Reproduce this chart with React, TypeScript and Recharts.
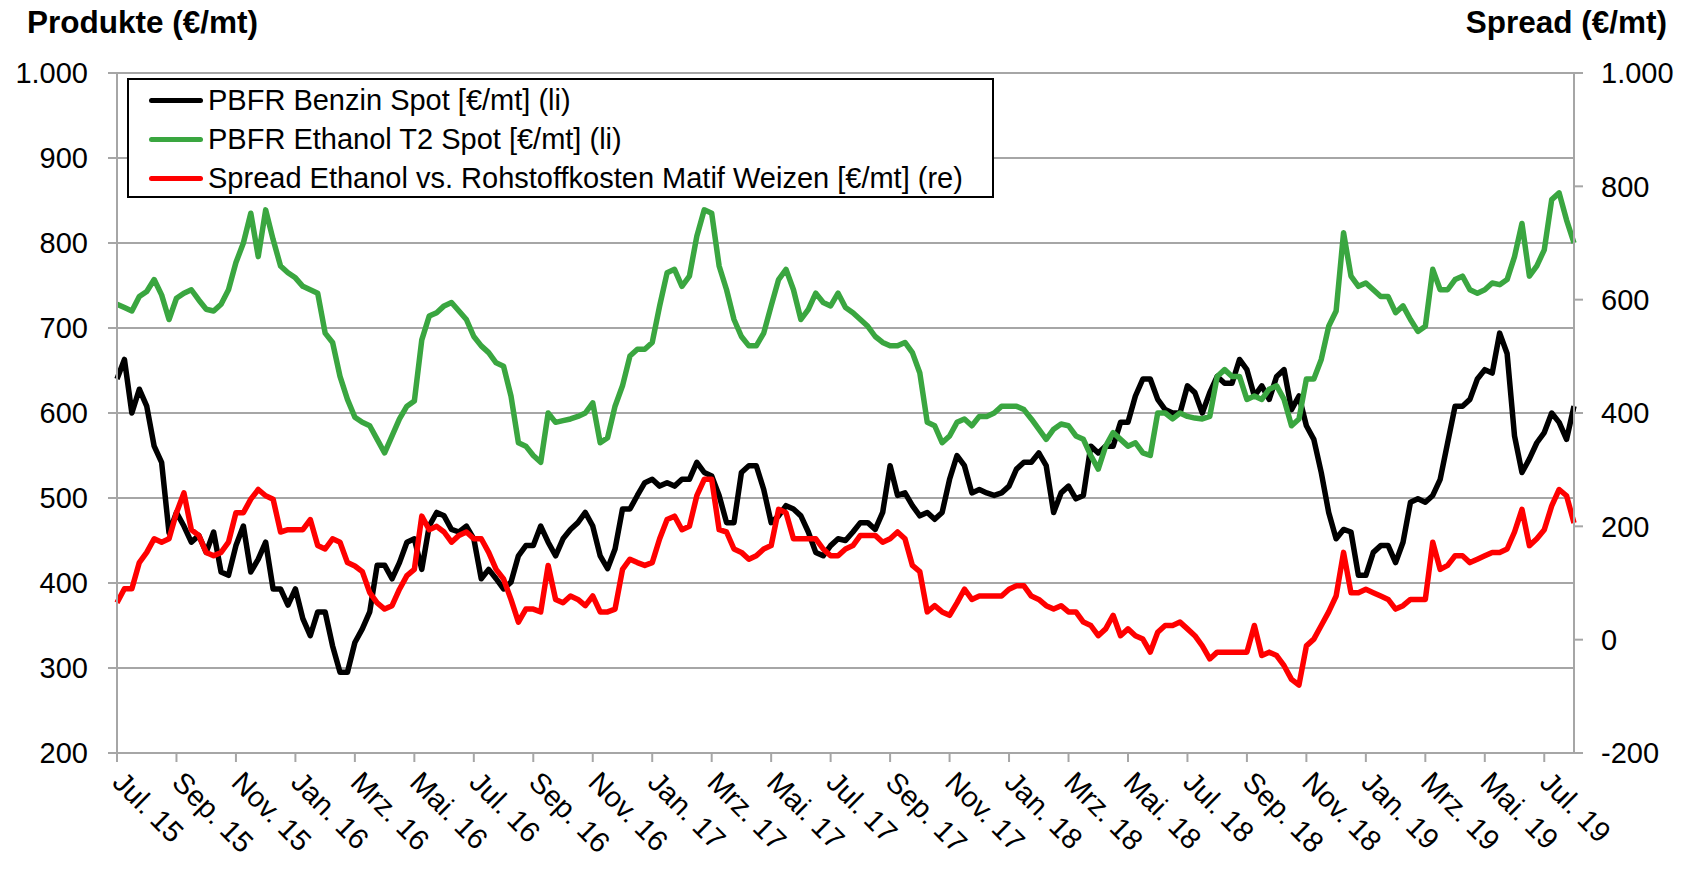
import React from "react";
import { LineChart, Line, XAxis, YAxis, CartesianGrid } from "recharts";

// quarter-month samples, Jul 2015 .. end Jul 2019
const benzin = [
  640, 663, 600, 628, 608, 561, 542, 459, 483, 467, 448, 456, 436, 460, 413, 409, 444, 467, 413, 428, 448, 393, 393, 374, 393, 358, 338, 366, 366, 326, 295, 295, 330,
  346, 366, 421, 421, 405, 424, 448, 452, 416, 467, 483, 479, 463, 460, 467, 452, 405, 416, 405, 393, 401, 432, 444, 444, 467, 448, 432, 452, 463, 471, 483, 467,
  432, 417, 440, 487, 487, 503, 518, 522, 514, 518, 514, 522, 522, 542, 530, 526, 503, 471, 471, 530, 538, 538, 510, 471, 479, 491, 487, 479, 460, 436, 432, 444,
  452, 450, 460, 471, 471, 463, 483, 538, 503, 506, 491, 479, 483, 475, 483, 522, 550, 538, 506, 510, 506, 503, 506, 514, 534, 542, 542, 553, 538, 483, 506, 514,
  499, 503, 561, 553, 561, 561, 589, 589, 620, 640, 640, 616, 604, 600, 600, 632, 624, 600, 624, 643, 635, 635, 663, 651, 620, 632, 616, 643, 651, 604, 620, 585,
  569, 530, 483, 452, 463, 460, 409, 409, 436, 444, 444, 424, 448, 495, 499, 495, 503, 522, 565, 608, 608, 616, 640, 651, 647, 694, 670, 573, 530, 546, 565, 577, 600, 589, 569, 608,
];

const ethanol = [
  728, 724, 720, 737, 743, 757, 739, 710, 735, 741, 745, 733, 722, 720, 728, 745, 777, 800, 835, 784, 839, 804, 773, 765, 759, 749, 745, 741, 694, 683, 643, 616, 595,
  589, 585, 569, 553, 573, 593, 608, 614, 686, 714, 718, 726, 730, 720, 710, 690, 679, 671, 659, 655, 620, 565, 561, 550, 542, 600, 589, 591, 593, 596, 600, 612,
  565, 571, 608, 632, 667, 675, 675, 683, 726, 765, 769, 749, 761, 808, 839, 835, 773, 745, 710, 690, 679, 679, 694, 726, 757, 769, 745, 710, 722, 741, 730, 726,
  741, 724, 718, 710, 702, 690, 683, 679, 679, 683, 671, 647, 589, 585, 565, 573, 589, 593, 585, 596, 596, 600, 608, 608, 608, 604, 593, 581, 569, 581, 587, 585,
  573, 569, 550, 534, 561, 577, 569, 561, 565, 553, 550, 600, 600, 593, 600, 596, 594, 593, 596, 643, 651, 643, 643, 616, 620, 616, 628, 632, 616, 585, 593, 640,
  640, 663, 702, 720, 812, 761, 749, 753, 745, 737, 737, 718, 726, 710, 696, 702, 769, 745, 745, 757, 761, 745, 741, 745, 753, 751, 757, 784, 823, 761, 773, 792, 851, 859, 827, 800,
];

const spread = [
  65, 90, 90, 136, 154, 178, 172, 178, 224, 259, 194, 184, 154, 148, 154, 172, 224, 224, 248, 265, 254, 248, 190, 194, 194, 194, 212, 166, 160, 178, 172, 136, 130,
  120, 83, 65, 54, 60, 89, 113, 124, 218, 194, 200, 190, 172, 184, 190, 178, 178, 154, 124, 107, 71, 31, 54, 54, 49, 131, 71, 65, 77, 71, 60, 77,
  49, 49, 54, 124, 142, 136, 131, 136, 178, 212, 218, 194, 200, 254, 283, 283, 194, 190, 160, 154, 142, 148, 160, 166, 230, 224, 178, 178, 178, 178, 160, 148,
  148, 160, 166, 184, 184, 184, 172, 178, 190, 178, 131, 120, 49, 60, 49, 43, 65, 89, 71, 77, 77, 77, 77, 89, 95, 95, 77, 71, 60, 54, 60, 49,
  49, 31, 25, 7, 19, 43, 7, 19, 7, 1, -22, 13, 25, 25, 31, 19, 7, -11, -34, -22, -22, -22, -22, -22, 25, -28, -22, -28, -46, -70, -80, -11,
  1, 25, 49, 77, 154, 83, 83, 89, 83, 77, 71, 54, 60, 71, 71, 71, 172, 124, 131, 148, 148, 136, 142, 148, 154, 154, 160, 190, 230, 166, 178, 194, 236, 265, 254, 206,
];

const tickLabels = [
  "Jul. 15", "Sep. 15", "Nov. 15", "Jan. 16", "Mrz. 16", "Mai. 16", "Jul. 16",
  "Sep. 16", "Nov. 16", "Jan. 17", "Mrz. 17", "Mai. 17", "Jul. 17", "Sep. 17",
  "Nov. 17", "Jan. 18", "Mrz. 18", "Mai. 18", "Jul. 18", "Sep. 18", "Nov. 18",
  "Jan. 19", "Mrz. 19", "Mai. 19", "Jul. 19",
];

const leftTicks = [200, 300, 400, 500, 600, 700, 800, 900, 1000];
const rightTicks = [-200, 0, 200, 400, 600, 800, 1000];

const seriesNames = [
  "PBFR Benzin Spot [€/mt] (li)",
  "PBFR Ethanol T2 Spot [€/mt] (li)",
  "Spread Ethanol vs. Rohstoffkosten Matif Weizen [€/mt] (re)",
];

const BLACK = "#000000";
const GREEN = "#3AA640";
const RED = "#FF0000";
const GRID = "#a6a6a6";
const FONT = "'Liberation Sans', Arial, sans-serif";

// x = months since Jul 2015
const data = benzin.map((b, i) => ({
  m: i / 4,
  benzin: b,
  ethanol: ethanol[i],
  spread: spread[i],
}));

const xTicks = tickLabels.map((_, i) => i * 2);

const fmt = (v: number) =>
  Math.abs(v) >= 1000 ? String(v).replace(/(\d)(?=(\d{3})+$)/, "$1.") : String(v);

function DateTick(props: any) {
  const { x, y, payload } = props;
  const label = tickLabels[Math.round(payload.value / 2)];
  const ax = x - 6;
  const ay = y + 20;
  return (
    <text
      x={ax}
      y={ay}
      transform={`rotate(45, ${ax}, ${ay})`}
      textAnchor="start"
      fontSize={29}
      fontFamily={FONT}
      fill="#000"
    >
      {label}
    </text>
  );
}

export default function App() {
  const colors = [BLACK, GREEN, RED];
  return (
    <div
      style={{
        position: "absolute",
        left: 0,
        top: 0,
        width: 1694,
        height: 872,
        background: "#fff",
        fontFamily: FONT,
      }}
    >
      <LineChart
        width={1694}
        height={872}
        data={data}
        margin={{ top: 73, right: 20, bottom: 19, left: 17 }}
      >
        <CartesianGrid
          yAxisId="left"
          vertical={false}
          stroke={GRID}
          strokeWidth={2}
        />
        <XAxis
          dataKey="m"
          type="number"
          domain={[0, 49]}
          ticks={xTicks}
          interval={0}
          height={100}
          tickSize={9}
          stroke={GRID}
          strokeWidth={2}
          tick={<DateTick />}
        />
        <YAxis
          yAxisId="left"
          domain={[200, 1000]}
          ticks={leftTicks}
          interval={0}
          width={100}
          tickSize={9}
          tickMargin={20}
          stroke={GRID}
          strokeWidth={2}
          tickFormatter={fmt}
          tick={{ fill: "#000", fontSize: 29, fontFamily: FONT }}
        />
        <YAxis
          yAxisId="right"
          orientation="right"
          domain={[-200, 1000]}
          ticks={rightTicks}
          interval={0}
          width={100}
          tickSize={9}
          tickMargin={18}
          stroke={GRID}
          strokeWidth={2}
          tickFormatter={fmt}
          tick={{ fill: "#000", fontSize: 29, fontFamily: FONT }}
        />
        <Line
          yAxisId="left"
          type="linear"
          dataKey="benzin"
          stroke={BLACK}
          strokeWidth={5.5}
          dot={false}
          strokeLinejoin="round"
          isAnimationActive={false}
        />
        <Line
          yAxisId="left"
          type="linear"
          dataKey="ethanol"
          stroke={GREEN}
          strokeWidth={5.5}
          dot={false}
          strokeLinejoin="round"
          isAnimationActive={false}
        />
        <Line
          yAxisId="right"
          type="linear"
          dataKey="spread"
          stroke={RED}
          strokeWidth={5.5}
          dot={false}
          strokeLinejoin="round"
          isAnimationActive={false}
        />
      </LineChart>

      <svg
        width={1694}
        height={872}
        style={{ position: "absolute", left: 0, top: 0, pointerEvents: "none" }}
      >
        <text x={27} y={33} fontSize={31.5} fontWeight="bold" fontFamily={FONT} fill="#000">
          Produkte (€/mt)
        </text>
        <text
          x={1667}
          y={33}
          fontSize={31.5}
          fontWeight="bold"
          fontFamily={FONT}
          fill="#000"
          textAnchor="end"
        >
          Spread (€/mt)
        </text>
      </svg>

      <div
        style={{
          position: "absolute",
          left: 127,
          top: 78,
          width: 867,
          height: 120,
          boxSizing: "border-box",
          border: "2px solid #000",
          background: "#fff",
          paddingTop: 1,
        }}
      >
        {seriesNames.map((name, i) => (
          <div
            key={name}
            style={{
              display: "flex",
              alignItems: "center",
              height: 39,
              fontSize: 29,
              whiteSpace: "nowrap",
            }}
          >
            <span
              style={{
                display: "inline-block",
                marginLeft: 20,
                width: 54,
                height: 5,
                borderRadius: 3,
                background: colors[i],
                marginRight: 5,
              }}
            />
            <span>{name}</span>
          </div>
        ))}
      </div>
    </div>
  );
}
